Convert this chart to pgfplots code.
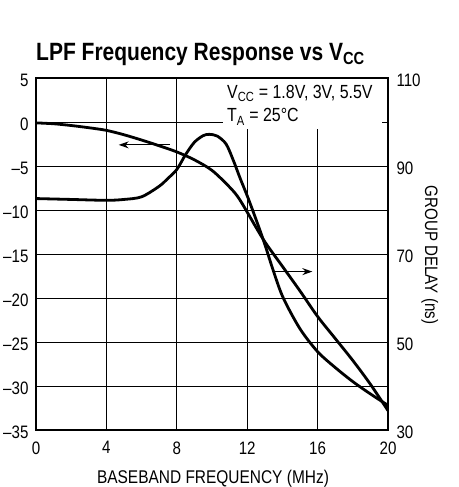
\documentclass[border=0pt]{standalone}
\usepackage{pgfplots}
\pgfplotsset{compat=1.18}
\usetikzlibrary{arrows.meta,calc}
\usepackage{fontspec}
\setmainfont{Liberation Sans}[FakeStretch=0.84]
\begin{document}
\begin{tikzpicture}
\pgfplotsset{
  common/.style={
    scale only axis, width=352pt, height=352pt,
    xmin=0, xmax=20,
    ticklabel style={font=\fontsize{18}{18}\selectfont},
    /pgf/number format/assume math mode=true,
    tick style={draw=none},
    axis line style={line width=1.8pt},
  }
}
\begin{axis}[common,
  ymin=-35, ymax=5,
  xtick={0,4,...,20},
  ytick={-35,-30,...,5},
  yticklabels={--35,--30,--25,--20,--15,--10,--5,0,5},
  grid=major,
  major grid style={black, line width=0.9pt},
  xticklabel style={yshift=-8pt},
  yticklabel style={xshift=-4pt, yshift=-2pt},
]
\coordinate (O) at (rel axis cs:0,0);
\addplot[black, line width=2.8pt, smooth] coordinates {
(0,-0.1)(1,-0.2)(2,-0.4)(3,-0.65)(4,-0.95)(5,-1.45)(6,-2.05)(7,-2.7)(8,-3.4)(9,-4.3)(10,-5.5)(11,-7.4)(11.6,-8.9)(12.9,-13.3)(14,-16.4)(15,-19.2)(16,-22.1)(17,-24.6)(18,-27.1)(19,-29.8)(20,-32.8)
};
\fill[white] (axis cs:10.6,-0.75) rectangle (axis cs:19.65,4.85);
\node[anchor=base west, inner sep=0, font=\fontsize{19}{19}\selectfont] at (axis cs:10.85,2.7) {V\textsubscript{CC} = 1.8V, 3V, 5.5V};
\node[anchor=base west, inner sep=0, font=\fontsize{19}{19}\selectfont] at (axis cs:10.85,0.0) {T\textsubscript{A} = 25°C};
\draw[-{Stealth[length=10pt,width=7pt]}, line width=1.2pt] (axis cs:7.6,-2.6) -- (axis cs:4.7,-2.6);
\draw[-{Stealth[length=10pt,width=7pt]}, line width=1.2pt] (axis cs:13.6,-17) -- (axis cs:15.7,-17);
\end{axis}
\begin{axis}[common,
  ymin=30, ymax=110,
  axis x line=none,
  axis y line*=right,
  ytick={30,50,...,110},
  yticklabel style={xshift=5pt, yshift=-2pt},
]
\addplot[black, line width=2.8pt, smooth] coordinates {
(0,82.6)(2,82.4)(4,82.2)(5,82.4)(6,83.0)(7,85.4)(7.5,87.2)(8,89.2)(8.5,92.6)(9,95.4)(9.5,96.9)(9.85,97.2)(10.3,96.8)(10.8,95.0)(11.2,91.4)(11.6,87.2)(12.1,82.2)(12.9,73.4)(13.5,66)(14.05,60)(15,53)(16,47.8)(17,44.2)(18,41)(19,38.2)(20,35.6)
};
\end{axis}
\node[anchor=base west, inner sep=0, font=\bfseries\fontsize{25}{25}\selectfont] at ($(O)+(0pt,369pt)$) {LPF Frequency Response vs V\textsubscript{CC}};
\node[anchor=base, inner sep=0, font=\fontsize{18.4}{18.4}\selectfont] at ($(O)+(177pt,-53.5pt)$) {BASEBAND FREQUENCY (MHz)};
\node[anchor=base, inner sep=0, rotate=-90, font=\fontsize{18}{18}\selectfont] at ($(O)+(389pt,175pt)$) {GROUP DELAY (ns)};
\pgfresetboundingbox
\useasboundingbox ($(O)+(-36pt,-57pt)$) rectangle ($(O)+(422pt,430pt)$);
\end{tikzpicture}
\end{document}
